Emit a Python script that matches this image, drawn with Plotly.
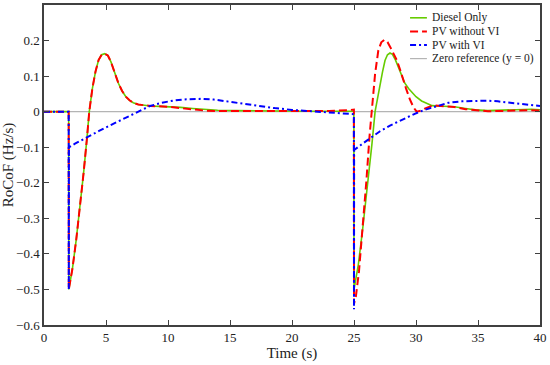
import plotly.graph_objects as go

# ---------------- data ----------------
t_diesel = [0, 1.99, 2.0, 2.1, 2.3, 2.6, 2.9, 3.2, 3.45, 3.65, 3.9, 4.15, 4.4, 4.65, 4.9,
            5.15, 5.4, 5.7, 6.0, 6.3, 6.6, 6.9, 7.2, 7.6, 8.0, 8.6, 9.3, 10.0, 11.0, 12.0,
            13.0, 14.0, 15.5, 17.0, 19.0, 21.0, 23.0, 24.99, 25.0, 25.1, 25.35, 25.7, 26.15,
            26.45, 26.7, 26.9, 27.1, 27.3, 27.5, 27.7, 27.9, 28.1, 28.35, 28.6, 28.8, 29.1,
            29.4, 29.65, 30.0, 30.45, 30.9, 31.3, 31.8, 32.5, 33.1, 34.0, 34.8, 35.8, 36.6,
            37.5, 38.5, 39.3, 40]
v_diesel = [0, 0, -0.5, -0.48, -0.44, -0.36, -0.27, -0.17, -0.08, 0.0, 0.065, 0.112, 0.145,
            0.16, 0.163, 0.158, 0.14, 0.11, 0.08, 0.058, 0.042, 0.032, 0.025, 0.02, 0.018,
            0.016, 0.015, 0.014, 0.012, 0.009, 0.006, 0.004, 0.003, 0.002, 0.001, 0.001,
            0.001, 0.001, -0.5, -0.48, -0.43, -0.33, -0.194, -0.09, 0.0, 0.04, 0.078, 0.112,
            0.144, 0.16, 0.165, 0.161, 0.145, 0.122, 0.103, 0.08, 0.065, 0.055, 0.042, 0.03,
            0.022, 0.017, 0.016, 0.015, 0.014, 0.009, 0.005, 0.003, 0.004, 0.006, 0.0075,
            0.007, 0.005]

t_pv = [0, 1.99, 2.0, 2.1, 2.3, 2.6, 2.9, 3.2, 3.45, 3.65, 3.9, 4.15, 4.4, 4.65, 4.9,
        5.15, 5.4, 5.7, 6.0, 6.3, 6.6, 6.9, 7.2, 7.6, 8.0, 8.6, 9.3, 10.0, 11.0, 12.0,
        13.0, 14.0, 15.5, 17.0, 19.0, 21.0, 23.0, 24.5, 24.9, 24.99, 25.0, 25.15, 25.4,
        25.7, 26.0, 26.25, 26.5, 26.7, 26.96, 27.2, 27.45, 27.7, 27.95, 28.2, 28.45, 28.7,
        28.95, 29.2, 29.5, 29.8, 30.05, 30.4, 30.8, 31.2, 31.6, 32.2, 33.1, 34.0, 35.0,
        35.8, 36.8, 37.5, 38.5, 39.3, 40]
v_pv = [0, 0, -0.5, -0.48, -0.44, -0.36, -0.27, -0.17, -0.08, 0.0, 0.065, 0.112, 0.145,
        0.16, 0.163, 0.158, 0.14, 0.11, 0.08, 0.058, 0.042, 0.032, 0.025, 0.02, 0.018,
        0.016, 0.015, 0.014, 0.01, 0.006, 0.003, 0.002, 0.002, 0.002, 0.001, 0.001, 0.002,
        0.004, 0.007, 0.006, -0.54, -0.52, -0.45, -0.33, -0.194, -0.07, 0.04, 0.106, 0.172,
        0.195, 0.202, 0.196, 0.18, 0.163, 0.145, 0.12, 0.09, 0.065, 0.035, 0.012, 0.0,
        0.003, 0.01, 0.015, 0.017, 0.016, 0.013, 0.007, 0.003, 0.001, 0.002, 0.003, 0.004,
        0.004, 0.003]

t_vi = [0, 1.99, 2.0, 2.01, 2.5, 3.44, 4.4, 5.3, 6.3, 7.2, 8.0, 8.55, 9.5, 10.4, 11.5,
        12.6, 13.7, 14.7, 16.0, 17.3, 18.6, 20.0, 21.3, 23.0, 24.8, 24.99, 25.0, 25.01,
        25.5, 26.4, 27.1, 27.9, 28.9, 29.9, 30.6, 31.3, 32.0, 32.6, 33.7, 34.8, 35.8, 36.6,
        37.4, 38.7, 40]
v_vi = [0, 0, -0.5, -0.1, -0.09, -0.072, -0.055, -0.039, -0.022, -0.006, 0.008, 0.016,
        0.025, 0.031, 0.035, 0.036, 0.034, 0.029, 0.022, 0.015, 0.01, 0.005, 0.002, -0.002,
        -0.006, -0.007, -0.556, -0.108, -0.095, -0.072, -0.055, -0.039, -0.022, -0.006,
        0.004, 0.012, 0.02, 0.025, 0.029, 0.031, 0.031, 0.029, 0.026, 0.021, 0.016]

t_zero = [0, 40]
v_zero = [0, 0]

x_ticks = [0, 5, 10, 15, 20, 25, 30, 35, 40]
y_ticks = [-0.6, -0.5, -0.4, -0.3, -0.2, -0.1, 0, 0.1, 0.2]
y_tick_labels = ["\u22120.6", "\u22120.5", "\u22120.4", "\u22120.3", "\u22120.2",
                 "\u22120.1", "0", "0.1", "0.2"]

legend_names = ["Diesel Only", "PV without VI", "PV with VI", "Zero reference (y = 0)"]

# ---------------- styles ----------------
FONT = "Liberation Serif, Times New Roman, serif"
styles = {
    "Diesel Only": dict(color="#66cc00", width=1.6),
    "PV without VI": dict(color="#ff0000", width=2, dash="8px,4px"),
    "PV with VI": dict(color="#0000ff", width=2, dash="6px,3px,2px,3px"),
    "Zero reference (y = 0)": dict(color="#b4b4b4", width=1.2),
}

fig = go.Figure()
fig.add_trace(go.Scatter(x=t_zero, y=v_zero, mode="lines", name=legend_names[3],
                         line=styles[legend_names[3]], showlegend=False))
fig.add_trace(go.Scatter(x=t_diesel, y=v_diesel, mode="lines", name=legend_names[0],
                         line=styles[legend_names[0]], showlegend=False))
fig.add_trace(go.Scatter(x=t_pv, y=v_pv, mode="lines", name=legend_names[1],
                         line=styles[legend_names[1]], showlegend=False))
fig.add_trace(go.Scatter(x=t_vi, y=v_vi, mode="lines", name=legend_names[2],
                         line=styles[legend_names[2]], showlegend=False))

# compact legend (samples + labels) in the top-right corner of the plot area
leg_x0, leg_x1, leg_tx = 0.738, 0.772, 0.778
leg_y_top, leg_dy = 0.960, 0.0425
shapes, annotations = [], []
for i, name in enumerate(legend_names):
    yy = leg_y_top - i * leg_dy
    shapes.append(dict(type="line", xref="paper", yref="paper", x0=leg_x0, x1=leg_x1,
                       y0=yy, y1=yy, line=styles[name]))
    annotations.append(dict(xref="paper", yref="paper", x=leg_tx, y=yy, text=name,
                            showarrow=False, xanchor="left", yanchor="middle",
                            font=dict(family=FONT, size=11.5, color="#222222")))

axis_common = dict(showline=True, linecolor="#404040", linewidth=1.5, mirror="ticks",
                   ticks="inside", ticklen=5, tickwidth=1, tickcolor="#404040",
                   showgrid=False, zeroline=False, automargin=False,
                   tickfont=dict(family=FONT, size=13, color="#222222"))

fig.update_layout(
    width=550, height=365,
    margin=dict(l=44, r=10, t=5, b=40),
    paper_bgcolor="white", plot_bgcolor="white",
    font=dict(family=FONT, color="#222222"),
    xaxis=dict(range=[0, 40], tickvals=x_ticks,
               title=dict(text="Time (s)", font=dict(family=FONT, size=15), standoff=2),
               **axis_common),
    yaxis=dict(range=[-0.6, 0.3], tickvals=y_ticks, ticktext=y_tick_labels,
               title=dict(text="RoCoF (Hz/s)", font=dict(family=FONT, size=15), standoff=0),
               **axis_common),
    shapes=shapes,
    annotations=annotations,
    showlegend=False,
)

fig.write_html("out.html", config={"displayModeBar": False},
               post_script="document.body.style.margin='0';")
